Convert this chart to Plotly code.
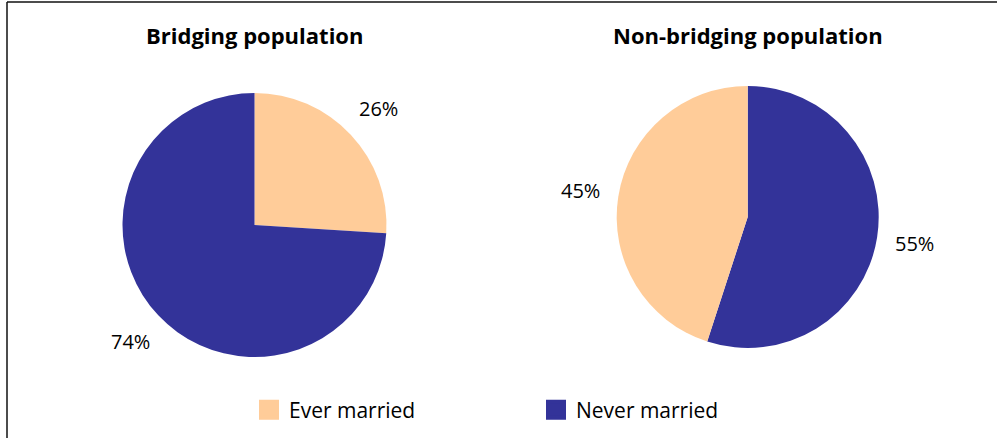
import math
import plotly.graph_objects as go

# ---- data ----
left_title = "Bridging population"
right_title = "Non-bridging population"
left_labels = ["Ever married", "Never married"]
left_values = [26, 74]
right_labels = ["Never married", "Ever married"]
right_values = [55, 45]
legend_labels = ["Ever married", "Never married"]
label_colors = {"Ever married": "#FFCC99", "Never married": "#333399"}

W, H = 997, 438
FONT = "Open Sans, Lato, sans-serif"

# pie geometry (pixels)
pies = [
    dict(labels=left_labels, values=left_values, title=left_title,
         cx=254.5, cy=225.0, r=132.0, title_y=35),
    dict(labels=right_labels, values=right_values, title=right_title,
         cx=747.7, cy=217.0, r=131.0, title_y=35),
]

fig = go.Figure()
annotations = []
for p in pies:
    x0 = (p["cx"] - p["r"]) / W
    x1 = (p["cx"] + p["r"]) / W
    y0 = 1 - (p["cy"] + p["r"]) / H
    y1 = 1 - (p["cy"] - p["r"]) / H
    fig.add_trace(go.Pie(
        labels=p["labels"], values=p["values"],
        sort=False, direction="clockwise", rotation=0,
        marker=dict(colors=[label_colors[l] for l in p["labels"]],
                    line=dict(width=0)),
        textinfo="none", hoverinfo="label+percent",
        domain=dict(x=[x0, x1], y=[y0, y1]),
        showlegend=False,
    ))
    # percentage labels positioned from the data angles
    total = sum(p["values"])
    cum = 0
    for v in p["values"]:
        mid = 2 * math.pi * (cum + v / 2) / total
        cum += v
        k = 1.29
        px = p["cx"] + p["r"] * k * math.sin(mid)
        py = p["cy"] - p["r"] * k * math.cos(mid)
        annotations.append(dict(
            x=px / W, y=1 - py / H, xref="paper", yref="paper",
            text=f"{round(100 * v / total)}%", showarrow=False,
            xanchor="center", yanchor="middle",
            font=dict(family=FONT, size=20, color="#000000"),
        ))
    annotations.append(dict(
        x=p["cx"] / W, y=1 - p["title_y"] / H, xref="paper", yref="paper",
        text=f"<b>{p['title']}</b>", showarrow=False,
        xanchor="center", yanchor="middle",
        font=dict(family=FONT, size=22, color="#000000"),
    ))

# legend entries (square swatches)
for lab in legend_labels:
    fig.add_trace(go.Scatter(
        x=[None], y=[None], mode="markers", name=lab,
        marker=dict(symbol="square", size=16, color=label_colors[lab],
                    line=dict(color=label_colors[lab], width=4)),
        showlegend=True, hoverinfo="skip",
    ))

fig.update_layout(
    width=W, height=H,
    margin=dict(l=0, r=0, t=0, b=0),
    paper_bgcolor="white", plot_bgcolor="white",
    xaxis=dict(visible=False), yaxis=dict(visible=False),
    annotations=annotations,
    showlegend=True,
    legend=dict(
        orientation="h", x=249 / W, xanchor="left",
        y=1 - 410 / H, yanchor="middle",
        font=dict(family=FONT, size=21, color="#000000"),
        entrywidth=242, entrywidthmode="pixels",
        bgcolor="rgba(0,0,0,0)",
    ),
    shapes=[
        dict(type="line", xref="paper", yref="paper",
             x0=7 / W, x1=7 / W, y0=0, y1=1 - 2 / H,
             line=dict(color="#111111", width=1.5)),
        dict(type="line", xref="paper", yref="paper",
             x0=7 / W, x1=1, y0=1 - 2 / H, y1=1 - 2 / H,
             line=dict(color="#111111", width=1.5)),
    ],
)

fig.write_html(
    "out.html",
    config={"displayModeBar": False},
    post_script="document.body.style.margin='0px';document.body.style.overflow='hidden';",
)
